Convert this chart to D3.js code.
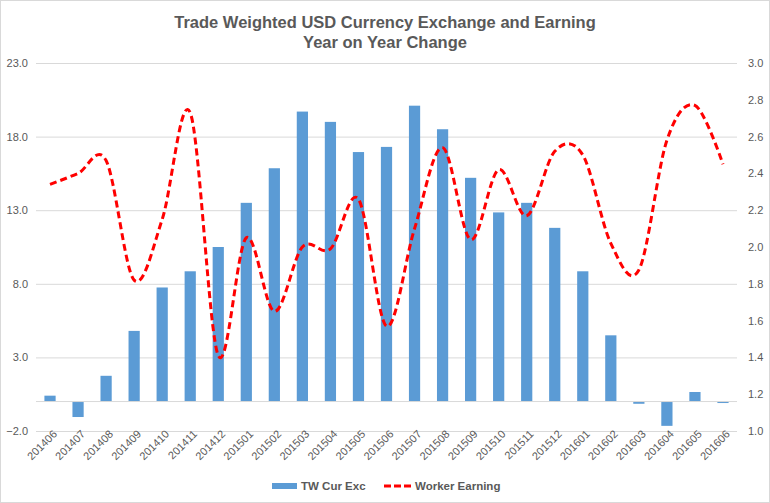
<!DOCTYPE html>
<html>
<head>
<meta charset="utf-8">
<script src="https://cdn.jsdelivr.net/npm/d3@7"></script>
<style>
  body { margin: 0; background: #fff; }
  svg text { font-family: "Liberation Sans", Arial, sans-serif; }
</style>
</head>
<body>
<svg id="chart" width="770" height="503"></svg>
<script>
// months on the category axis
let months = ["201406","201407","201408","201409","201410","201411","201412",
  "201501","201502","201503","201504","201505","201506","201507","201508",
  "201509","201510","201511","201512","201601","201602","201603","201604",
  "201605","201606"];

// TW Cur Exc (left axis)
let curExc = [0.4, -1.05, 1.75, 4.8, 7.75, 8.85, 10.5, 13.5, 15.85, 19.7, 19.0,
  16.95, 17.3, 20.1, 18.5, 15.2, 12.85, 13.5, 11.8, 8.85, 4.5, -0.15, -1.65, 0.65, -0.1];

// Worker Earning (right axis)
let earning = [2.34, 2.40, 2.47, 1.82, 2.15, 2.73, 1.41, 2.05, 1.65, 2.00, 1.99,
  2.26, 1.57, 2.10, 2.54, 2.04, 2.42, 2.17, 2.52, 2.50, 2.02, 1.875, 2.58, 2.77, 2.45];

let leftTicks = [-2, 3, 8, 13, 18, 23];
let rightTicks = [1.0, 1.2, 1.4, 1.6, 1.8, 2.0, 2.2, 2.4, 2.6, 2.8, 3.0];
let titleLines = ["Trade Weighted USD Currency Exchange and Earning", "Year on Year Change"];

let W = 770, H = 503;
let margin = {top: 63, right: 33, bottom: 72, left: 36};
let svg = d3.select("#chart");

svg.append("rect")
    .attr("x", 0.5).attr("y", 0.5)
    .attr("width", W - 1).attr("height", H - 1)
    .attr("fill", "#fff")
    .attr("stroke", "#d9d9d9");

let x = d3.scaleBand()
    .domain(months)
    .range([margin.left, W - margin.right])
    .paddingInner(0.6)
    .paddingOuter(0.3);
let yL = d3.scaleLinear().domain([-2, 23]).range([H - margin.bottom, margin.top]);
let yR = d3.scaleLinear().domain([1, 3]).range([H - margin.bottom, margin.top]);

// gridlines + left labels
let gL = svg.append("g")
    .attr("transform", "translate(" + margin.left + ",0)")
    .call(d3.axisLeft(yL)
      .tickValues(leftTicks)
      .tickFormat(d3.format(".1f"))
      .tickSize(-(W - margin.left - margin.right))
      .tickPadding(8));
gL.select(".domain").remove();
gL.selectAll("line").attr("stroke", "#d9d9d9");
gL.selectAll("text").attr("fill", "#595959").style("font-size", "11px");

let gR = svg.append("g")
    .attr("transform", "translate(" + (W - margin.right) + ",0)")
    .call(d3.axisRight(yR)
      .tickValues(rightTicks)
      .tickFormat(d3.format(".1f"))
      .tickSize(0)
      .tickPadding(11));
gR.select(".domain").remove();
gR.selectAll("text").attr("fill", "#595959").style("font-size", "11px");

// bars
svg.append("g")
  .selectAll("rect")
    .data(curExc)
    .enter()
    .append("rect")
    .attr("x", (d, i) => x(months[i]))
    .attr("width", x.bandwidth())
    .attr("y", d => yL(Math.max(0, d)))
    .attr("height", d => Math.abs(yL(d) - yL(0)))
    .attr("fill", "#5b9bd5");

// category axis line at zero
svg.append("line")
    .attr("x1", margin.left).attr("x2", W - margin.right)
    .attr("y1", yL(0)).attr("y2", yL(0))
    .attr("stroke", "#d9d9d9");

// x labels
svg.append("g")
  .selectAll("text")
    .data(months)
    .enter()
    .append("text")
    .attr("transform", d => "translate(" + (x(d) + x.bandwidth() / 2 + 5) + "," + (H - margin.bottom + 1) + ") rotate(-45)")
    .attr("text-anchor", "end")
    .attr("dy", "0.35em")
    .attr("fill", "#595959")
    .style("font-size", "11px")
    .text(d => d);

// earning line
let line = d3.line()
    .x((d, i) => x(months[i]) + x.bandwidth() / 2)
    .y(d => yR(d))
    .curve(d3.curveCardinal.tension(0));

svg.append("path")
    .datum(earning)
    .attr("d", line)
    .attr("fill", "none")
    .attr("stroke", "#ff0000")
    .attr("stroke-width", 3)
    .attr("stroke-dasharray", "7,4");

// title
svg.append("text")
    .attr("x", W / 2).attr("y", 28)
    .attr("text-anchor", "middle")
    .attr("fill", "#595959")
    .style("font-size", "16.5px")
    .style("font-weight", "bold")
  .selectAll("tspan")
    .data(titleLines)
    .enter()
    .append("tspan")
    .attr("x", W / 2)
    .attr("dy", (d, i) => i == 0 ? 0 : 20)
    .text(d => d);

// legend
let leg = svg.append("g").attr("transform", "translate(0,486)");
leg.append("rect")
    .attr("x", 272).attr("y", -3)
    .attr("width", 25).attr("height", 6)
    .attr("fill", "#5b9bd5");
leg.append("text")
    .attr("x", 301).attr("dy", "0.35em")
    .attr("fill", "#595959")
    .style("font-size", "11.5px")
    .style("font-weight", "bold")
    .text("TW Cur Exc");
leg.append("line")
    .attr("x1", 384).attr("x2", 412)
    .attr("stroke", "#ff0000")
    .attr("stroke-width", 3)
    .attr("stroke-dasharray", "7,3");
leg.append("text")
    .attr("x", 415).attr("dy", "0.35em")
    .attr("fill", "#595959")
    .style("font-size", "11.5px")
    .style("font-weight", "bold")
    .text("Worker Earning");
</script>
</body>
</html>
